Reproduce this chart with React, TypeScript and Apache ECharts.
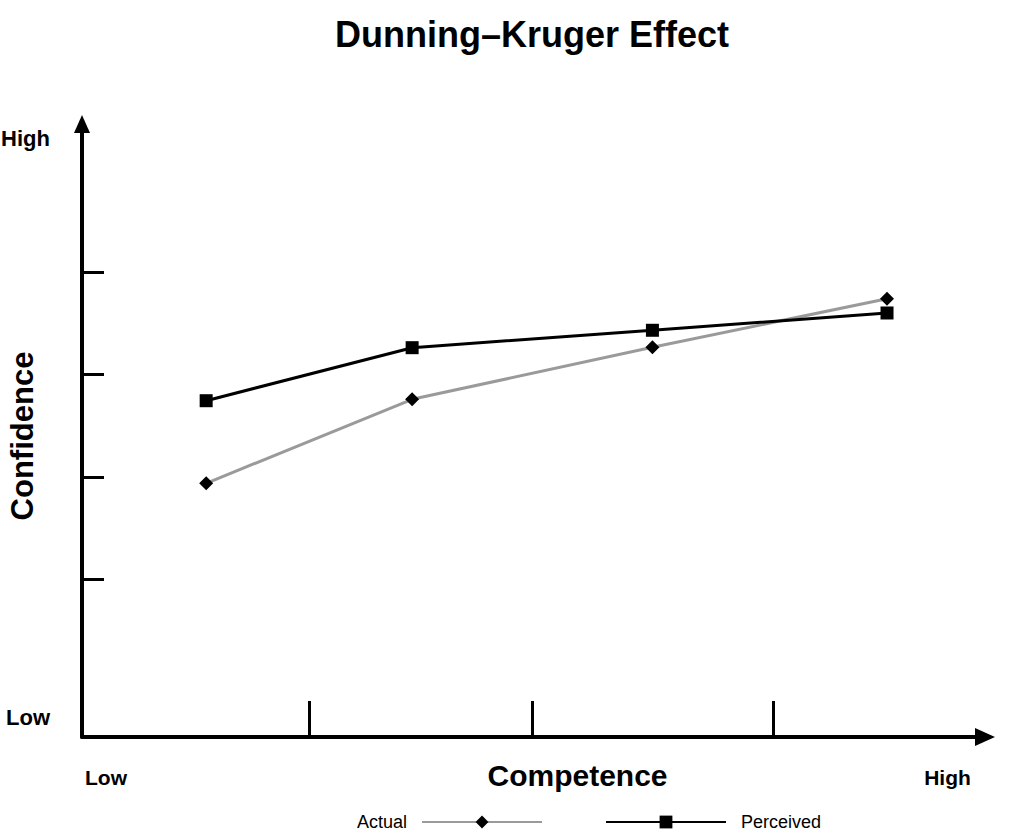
import React, { useEffect, useRef } from "react";
import * as echarts from "echarts";

const competence = [13.75, 36.56, 63.17, 89.15];
const actual = [41.39, 55.09, 63.57, 71.5];
const perceived = [54.86, 63.51, 66.35, 69.17];

const xTicks = [25.2, 49.9, 76.5];
const yTicks = [25.8, 42.4, 59.2, 75.8];

const xLabelPos = [2.66, 95.85];
const xLabelText = ["Low", "High"];
const yLabelPos = [3.1, 97.7];
const yLabelText = ["Low", "High"];

const FONT = "Arial, 'Liberation Sans', Helvetica, sans-serif";

export default function App() {
  const ref = useRef<HTMLDivElement>(null);
  useEffect(() => {
    if (!ref.current) return;
    const chart = echarts.init(ref.current, null, { renderer: "svg" });
    chart.setOption({
      animation: false,
      backgroundColor: "#ffffff",
      textStyle: { fontFamily: FONT },
      title: {
        text: "Dunning–Kruger Effect",
        left: 527,
        textAlign: "center",
        top: 11,
        textStyle: { fontSize: 36, fontWeight: "bold", color: "#000", fontFamily: FONT },
      },
      grid: { left: 82, right: 39, top: 124, bottom: 102, outerBoundsMode: "none" },
      legend: [
        {
          data: ["Actual"],
          left: 357,
          top: 813,
          padding: 0,
          align: "right",
          itemWidth: 120,
          itemHeight: 16,
          textStyle: { fontSize: 18, color: "#000", fontFamily: FONT, padding: [0, 10, 0, 0] },
        },
        {
          data: ["Perceived"],
          left: 605,
          top: 813,
          padding: 0,
          align: "left",
          itemWidth: 120,
          itemHeight: 16,
          textStyle: { fontSize: 18, color: "#000", fontFamily: FONT, padding: [0, 0, 0, 10] },
        },
      ],
      xAxis: {
        type: "value",
        min: 0,
        max: 100,
        name: "Competence",
        nameLocation: "middle",
        nameGap: 23,
        nameMoveOverlap: false,
        nameTextStyle: {
          fontSize: 30,
          fontWeight: "bold",
          color: "#000",
          fontFamily: FONT,
          padding: [0, 0, 0, 88],
        },
        splitLine: { show: false },
        axisLine: {
          show: true,
          symbol: ["none", "triangle"],
          symbolSize: [18, 20],
          lineStyle: { color: "#000", width: 4 },
        },
        axisTick: {
          show: true,
          inside: true,
          length: 36,
          customValues: xTicks,
          lineStyle: { color: "#000", width: 3 },
        },
        axisLabel: {
          show: true,
          customValues: xLabelPos,
          margin: 30,
          fontSize: 21,
          fontWeight: "bold",
          color: "#000",
          fontFamily: FONT,
          formatter: (v: number) => xLabelText[xLabelPos.indexOf(v)] ?? "",
        },
      },
      yAxis: {
        type: "value",
        min: 0,
        max: 100,
        name: "Confidence",
        nameLocation: "middle",
        nameGap: 44,
        nameMoveOverlap: false,
        nameTextStyle: {
          fontSize: 31,
          fontWeight: "bold",
          color: "#000",
          fontFamily: FONT,
          padding: [0, 11, 0, 0],
        },
        splitLine: { show: false },
        axisLine: {
          show: true,
          symbol: ["none", "triangle"],
          symbolSize: [16, 18],
          lineStyle: { color: "#000", width: 4 },
        },
        axisTick: {
          show: true,
          inside: true,
          length: 22,
          customValues: yTicks,
          lineStyle: { color: "#000", width: 3 },
        },
        axisLabel: {
          show: true,
          customValues: yLabelPos,
          margin: 32,
          fontSize: 22,
          fontWeight: "bold",
          color: "#000",
          fontFamily: FONT,
          formatter: (v: number) => yLabelText[yLabelPos.indexOf(v)] ?? "",
        },
      },
      series: [
        {
          name: "Actual",
          type: "line",
          data: competence.map((x, i) => [x, actual[i]]),
          symbol: "diamond",
          symbolSize: 14,
          itemStyle: { color: "#000" },
          lineStyle: { color: "#9a9a9a", width: 3 },
        },
        {
          name: "Perceived",
          type: "line",
          data: competence.map((x, i) => [x, perceived[i]]),
          symbol: "rect",
          symbolSize: 13,
          itemStyle: { color: "#000" },
          lineStyle: { color: "#000", width: 3 },
        },
      ],
    });
    return () => chart.dispose();
  }, []);
  return (
    <div
      ref={ref}
      style={{ position: "fixed", left: 0, top: 0, width: 1024, height: 839 }}
    />
  );
}
